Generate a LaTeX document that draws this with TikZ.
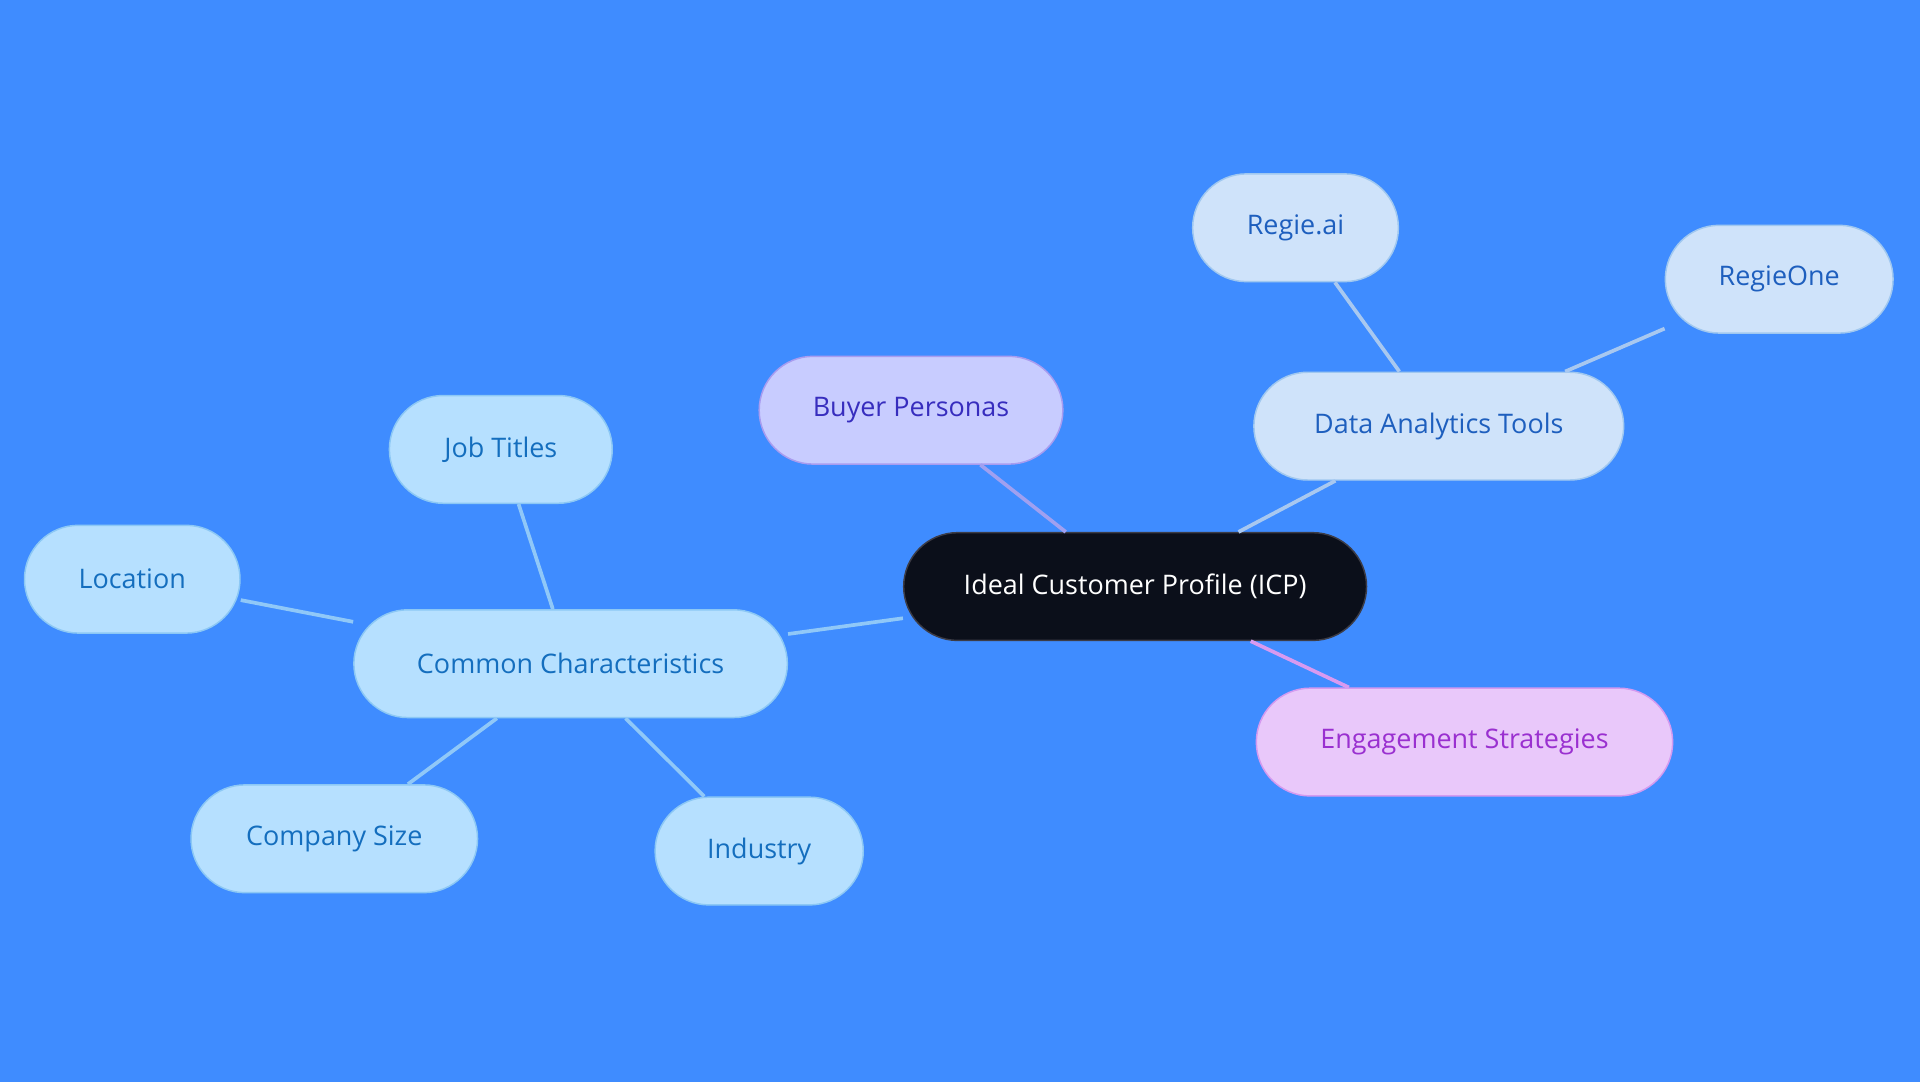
\documentclass[tikz,border=0pt]{standalone}
\usepackage{fontspec}
\setmainfont{Open Sans}
\begin{document}
\begin{tikzpicture}[x=0.5pt,y=-0.5pt,
 box/.style={rounded corners=22pt,minimum height=44pt,line width=0.6pt,font=\fontsize{11}{13}\selectfont,inner sep=0pt},
 cc/.style={box,fill={rgb,255:red,182;green,224;blue,255},draw={rgb,255:red,140;green,200;blue,245},text={rgb,255:red,20;green,110;blue,190}},
 da/.style={box,fill={rgb,255:red,207;green,227;blue,250},draw={rgb,255:red,160;green,200;blue,240},text={rgb,255:red,30;green,95;blue,190}},
 ln/.style={line width=1.5pt}]
\fill[fill={rgb,255:red,63;green,140;blue,255}] (0,0) rectangle (1568,884);
\node[box,fill={rgb,255:red,11;green,15;blue,26},draw={rgb,255:red,60;green,60;blue,70},text=white,minimum width=189pt] (icp) at (927,479) {Ideal Customer Profile (ICP)};
\node[box,fill={rgb,255:red,200;green,204;blue,255},draw={rgb,255:red,168;green,156;blue,240},text={rgb,255:red,55;green,45;blue,190},minimum width=124pt] (bp) at (744,335) {Buyer Personas};
\node[da,minimum width=151pt] (dat) at (1175,348) {Data Analytics Tools};
\node[da,minimum width=84pt] (ra) at (1058,186) {Regie.ai};
\node[da,minimum width=93pt] (ro) at (1453,228) {RegieOne};
\node[box,fill={rgb,255:red,233;green,200;blue,250},draw={rgb,255:red,212;green,154;blue,240},text={rgb,255:red,154;green,48;blue,208},minimum width=170pt] (es) at (1196,606) {Engagement Strategies};
\node[cc,minimum width=177pt] (cm) at (466,542) {Common Characteristics};
\node[cc,minimum width=91pt] (jt) at (409,367) {Job Titles};
\node[cc,minimum width=88pt] (lo) at (108,473) {Location};
\node[cc,minimum width=117pt] (cs) at (273,685) {Company Size};
\node[cc,minimum width=85pt] (in) at (620,695) {Industry};
\begin{scope}[on background layer/.try]
\end{scope}
\begin{pgfinterruptboundingbox}\end{pgfinterruptboundingbox}
\draw[ln,draw={rgb,255:red,160;green,160;blue,240}] (icp) -- (bp);
\draw[ln,draw={rgb,255:red,168;green,200;blue,240}] (icp) -- (dat);
\draw[ln,draw={rgb,255:red,168;green,200;blue,240}] (dat) -- (ra);
\draw[ln,draw={rgb,255:red,168;green,200;blue,240}] (dat) -- (ro);
\draw[ln,draw={rgb,255:red,216;green,154;blue,240}] (icp) -- (es);
\draw[ln,draw={rgb,255:red,144;green,200;blue,248}] (icp) -- (cm);
\draw[ln,draw={rgb,255:red,144;green,200;blue,248}] (cm) -- (jt);
\draw[ln,draw={rgb,255:red,144;green,200;blue,248}] (cm) -- (lo);
\draw[ln,draw={rgb,255:red,144;green,200;blue,248}] (cm) -- (cs);
\draw[ln,draw={rgb,255:red,144;green,200;blue,248}] (cm) -- (in);
\end{tikzpicture}
\end{document}
